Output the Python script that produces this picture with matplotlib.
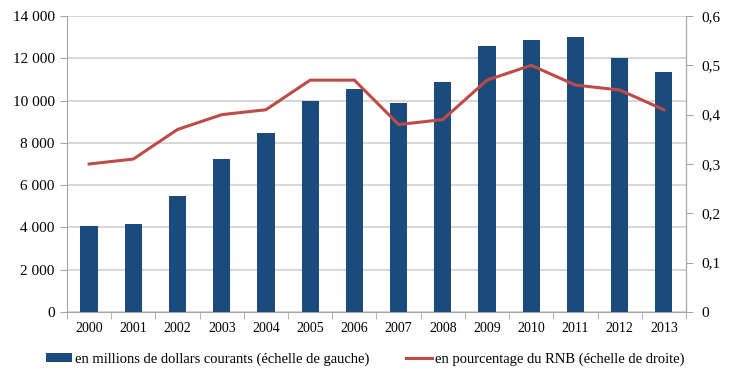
import matplotlib.pyplot as plt
from matplotlib.ticker import FuncFormatter, FixedLocator

plt.rcParams['font.family'] = ['Liberation Serif', 'DejaVu Serif']

# Data
years = ["2000", "2001", "2002", "2003", "2004", "2005", "2006",
         "2007", "2008", "2009", "2010", "2011", "2012", "2013"]
aid_musd = [4080, 4160, 5480, 7240, 8470, 9990, 10560,
            9890, 10890, 12590, 12870, 13000, 12020, 11360]
pct_rnb = [0.30, 0.31, 0.37, 0.40, 0.41, 0.47, 0.47,
           0.38, 0.39, 0.47, 0.50, 0.46, 0.45, 0.41]

bar_color = "#1B4A7C"
line_color = "#BE4B48"
grey = "#A6A6A6"

fig = plt.figure(figsize=(7.3, 3.79), dpi=100)
ax = fig.add_axes([0.0918, 0.1768, 0.8479, 0.781])
x = range(len(years))

bars = ax.bar(x, aid_musd, width=0.39, color=bar_color, zorder=3,
              label="en millions de dollars courants (échelle de gauche)")
ax.set_ylim(0, 14000)
ax.set_yticks(range(0, 14001, 2000))
ax.yaxis.set_major_formatter(FuncFormatter(lambda v, p: f"{int(v):,}".replace(",", " ")))
ax.set_xlim(-0.5, len(years) - 0.5)
ax.set_xticks(list(x))
ax.set_xticklabels(years, fontsize=10)
ax.xaxis.set_minor_locator(FixedLocator([i - 0.5 for i in range(len(years) + 1)]))
ax.tick_params(axis="x", which="major", length=0, pad=7)
ax.tick_params(axis="x", which="minor", length=5, color=grey, direction="out")
ax.tick_params(axis="y", length=5, color=grey, labelsize=11, pad=4)
ax.grid(axis="y", color="#D0D0D0", linewidth=1.2, zorder=0)
for s in ["left", "right", "bottom"]:
    ax.spines[s].set_color(grey)
ax.spines["top"].set_visible(False)

ax2 = ax.twinx()
line, = ax2.plot(x, pct_rnb, color=line_color, linewidth=2.2, zorder=4,
                 label="en pourcentage du RNB (échelle de droite)")
ax2.set_ylim(0, 0.6)
ax2.set_yticks([0, 0.1, 0.2, 0.3, 0.4, 0.5, 0.6])
ax2.yaxis.set_major_formatter(FuncFormatter(lambda v, p: "0" if v == 0 else f"{v:.1f}".replace(".", ",")))
ax2.tick_params(axis="y", length=5, color=grey, labelsize=11, pad=6)
for s in ["left", "right", "bottom", "top"]:
    ax2.spines[s].set_visible(False)
ax2.spines["right"].set_visible(True)
ax2.spines["right"].set_color(grey)

fig.legend([bars, line], [bars.get_label(), line.get_label()],
           loc="lower center", bbox_to_anchor=(0.5, 0.0), ncol=2,
           frameon=False, fontsize=10.5, handlelength=1.8, handleheight=0.5,
           columnspacing=2.5, handletextpad=0.2)

fig.savefig("out.png", dpi=100)
